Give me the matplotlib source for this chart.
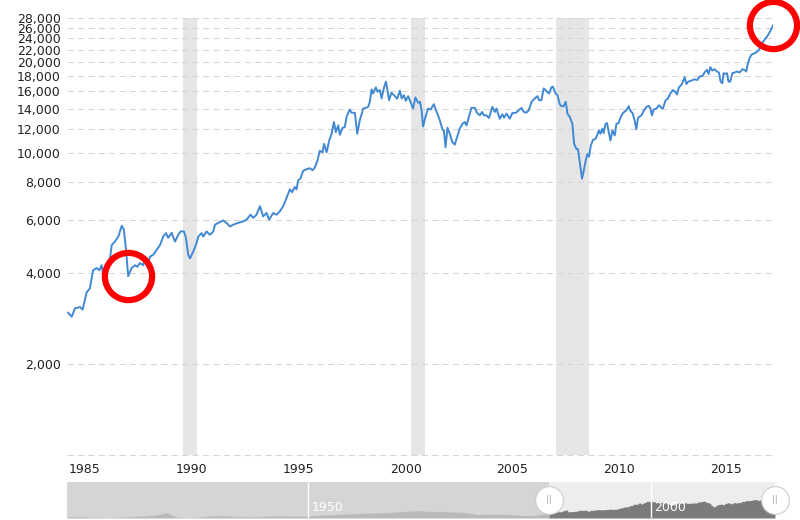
import numpy as np
import matplotlib
matplotlib.use("Agg")
import matplotlib.pyplot as plt
from matplotlib.ticker import NullLocator, NullFormatter

# monthly-ish readings, decimal years / index level (inflation adjusted)
dates = [
    1985.12, 1985.29, 1985.44, 1985.68, 1985.80, 1985.99, 1986.14, 1986.29, 1986.46, 1986.58,
    1986.69, 1986.77, 1986.93, 1987.03, 1987.16, 1987.31, 1987.47, 1987.63, 1987.73, 1987.83,
    1987.93, 1988.09, 1988.25, 1988.36, 1988.48, 1988.64, 1988.71, 1988.82, 1988.95, 1989.10,
    1989.26, 1989.42, 1989.57, 1989.70, 1989.80, 1989.96, 1990.12, 1990.27, 1990.38, 1990.54,
    1990.63, 1990.74, 1990.82, 1990.97, 1991.13, 1991.21, 1991.36, 1991.44, 1991.60, 1991.75,
    1991.91, 1991.99, 1992.14, 1992.37, 1992.53, 1992.69, 1992.84, 1993.07, 1993.31, 1993.47,
    1993.65, 1993.78, 1993.93, 1994.09, 1994.24, 1994.40, 1994.52, 1994.71, 1994.87, 1995.02,
    1995.18, 1995.34, 1995.49, 1995.60, 1995.72, 1995.80, 1995.88, 1995.99, 1996.11, 1996.27,
    1996.42, 1996.55, 1996.66, 1996.77, 1996.89, 1997.02, 1997.09, 1997.21, 1997.33, 1997.44,
    1997.55, 1997.64, 1997.75, 1997.83, 1997.95, 1998.06, 1998.14, 1998.29, 1998.37, 1998.53,
    1998.64, 1998.76, 1998.92, 1999.04, 1999.15, 1999.23, 1999.31, 1999.38, 1999.51, 1999.59,
    1999.70, 1999.78, 1999.88, 1999.98, 2000.04, 2000.13, 2000.24, 2000.40, 2000.51, 2000.63,
    2000.72, 2000.82, 2000.91, 2001.02, 2001.13, 2001.25, 2001.36, 2001.49, 2001.57, 2001.65,
    2001.72, 2001.83, 2001.95, 2002.07, 2002.22, 2002.31, 2002.42, 2002.50, 2002.63, 2002.69,
    2002.77, 2002.86, 2002.97, 2003.09, 2003.20, 2003.33, 2003.43, 2003.56, 2003.67, 2003.75,
    2003.86, 2003.98, 2004.14, 2004.24, 2004.37, 2004.48, 2004.56, 2004.68, 2004.80, 2004.96,
    2005.07, 2005.15, 2005.30, 2005.43, 2005.50, 2005.62, 2005.77, 2005.90, 2006.05, 2006.16,
    2006.32, 2006.43, 2006.55, 2006.66, 2006.79, 2006.94, 2007.07, 2007.14, 2007.25, 2007.36,
    2007.51, 2007.61, 2007.72, 2007.79, 2007.91, 2008.00, 2008.11, 2008.19, 2008.29, 2008.39,
    2008.47, 2008.58, 2008.70, 2008.78, 2008.89, 2008.96, 2009.04, 2009.15, 2009.23, 2009.32,
    2009.40, 2009.48, 2009.56, 2009.66, 2009.78, 2009.85, 2009.94, 2010.01, 2010.10, 2010.16,
    2010.24, 2010.32, 2010.40, 2010.48, 2010.57, 2010.68, 2010.76, 2010.86, 2010.96, 2011.07,
    2011.22, 2011.33, 2011.41, 2011.51, 2011.61, 2011.69, 2011.77, 2011.93, 2012.03, 2012.16,
    2012.27, 2012.35, 2012.42, 2012.50, 2012.63, 2012.75, 2012.86, 2012.93, 2013.06, 2013.17,
    2013.28, 2013.40, 2013.51, 2013.59, 2013.68, 2013.79, 2013.87, 2013.95, 2014.03, 2014.12,
    2014.26, 2014.42, 2014.54, 2014.65, 2014.78, 2014.88, 2014.99, 2015.07, 2015.15, 2015.24,
    2015.35, 2015.46, 2015.55, 2015.63, 2015.71, 2015.77, 2015.85, 2015.93, 2016.00, 2016.08,
    2016.18, 2016.29, 2016.39, 2016.52, 2016.65, 2016.75, 2016.83, 2016.91, 2016.99, 2017.07,
    2017.17, 2017.30, 2017.41, 2017.49, 2017.58, 2017.69, 2017.79, 2017.89, 2017.99, 2018.08,
]
values = [
    2960, 2870, 3060, 3090, 3030, 3460, 3560, 4090, 4160, 4090,
    4250, 3940, 4250, 4200, 4960, 5090, 5290, 5740, 5570, 4780,
    3910, 4160, 4250, 4200, 4320, 4250, 4490, 4200, 4540, 4600,
    4780, 4960, 5290, 5430, 5240, 5440, 5090, 5360, 5500, 5500,
    5240, 4600, 4480, 4710, 5040, 5290, 5430, 5290, 5500, 5360,
    5500, 5790, 5870, 5980, 5870, 5710, 5790, 5870, 5940, 6020,
    6250, 6100, 6250, 6670, 6170, 6330, 6020, 6330, 6250, 6410,
    6670, 7110, 7580, 7420, 7720, 7580, 8120, 8250, 8730, 8840,
    8910, 8770, 8960, 9380, 10180, 10060, 10720, 10060, 11000, 11580,
    12670, 11730, 12340, 11490, 12120, 12190, 13170, 13930, 13610, 13580,
    11580, 12830, 14040, 14110, 14220, 14780, 16250, 15750, 16500, 15960,
    16160, 15160, 16370, 17240, 16370, 14960, 15840, 15430, 15120, 16080,
    15160, 15550, 14890, 15430, 14780, 14040, 15280, 14660, 14780, 13850,
    12250, 13170, 14040, 13930, 14510, 13930, 13330, 12830, 11940, 11880,
    10450, 12120, 11580, 10860, 10660, 11430, 12030, 12500, 12670, 12340,
    13170, 14110, 14110, 13580, 13330, 13680, 13330, 13330, 13070, 14220,
    13680, 14040, 12990, 13430, 13100, 13500, 12990, 13580, 13580, 13790,
    14110, 13680, 13610, 13850, 14780, 15160, 15430, 14960, 14960, 16370,
    15960, 15750, 16500, 16590, 15750, 15550, 14510, 14290, 14290, 14780,
    13500, 13170, 12500, 10720, 10310, 10310, 9380, 8230, 8730, 9430,
    9930, 9720, 10580, 11050, 11140, 11430, 11880, 11580, 12030, 11640,
    12440, 12570, 11730, 11000, 11880, 11430, 12500, 12570, 13170, 13580,
    13850, 14290, 13790, 13580, 12830, 11980, 13080, 13330, 13790, 14220,
    14330, 14040, 13330, 13930, 14040, 14400, 14110, 14040, 14960, 15160,
    15750, 16160, 15960, 15630, 16500, 16790, 17240, 17820, 16920, 17240,
    17370, 17550, 17450, 17920, 18000, 18480, 18850, 18280, 19250, 18760,
    18950, 18620, 18480, 17240, 17020, 18380, 18280, 18380, 17240, 17240,
    18380, 18480, 18620, 18480, 18950, 18850, 18620, 19850, 20630, 21160,
    21320, 21550, 21890, 22570, 23150, 23750, 24250, 24870, 25650, 26450,
]

recessions = [(1990.50, 1991.17), (2001.17, 2001.83), (2007.92, 2009.50)]
y_ticks = [2000, 4000, 6000, 8000, 10000, 12000, 14000, 16000,
           18000, 20000, 22000, 24000, 26000, 28000]
x_tick_years = [1985, 1990, 1995, 2000, 2005, 2010, 2015]

# navigator: earlier history shown only in the scroller
nav_years = [1914.8, 1916.7, 1918.6, 1921.1, 1923.5, 1926.0, 1927.9, 1928.9, 1929.4, 1930.1,
             1930.8, 1932.3, 1934.2, 1935.7, 1937.1, 1939.1, 1941.5, 1944.0, 1945.9, 1947.8,
             1950.0, 1952.7, 1955.6, 1958.5, 1961.5, 1964.4, 1966.0, 1967.5, 1969.5, 1972.6,
             1974.8, 1977.5, 1980.0, 1982.3, 1984.0]
nav_values = [1070, 1190, 950, 810, 1070, 1500, 2000, 3020, 3440, 2000,
              1070, 810, 1070, 1500, 1640, 1360, 1070, 1360, 1640, 1360,
              1500, 2000, 2580, 3020, 3440, 4500, 5000, 4500, 4340, 3650,
              2280, 2580, 2000, 1640, 2280]
nav_labels = [1950, 2000]
circled = [1987.93, 2018.08]

plt.rcParams['font.family'] = ['DejaVu Sans']

fig = plt.figure(figsize=(8, 5.2), dpi=100)
ax = fig.add_axes([67/800, 65/520, 706/800, 437/520])
ax.set_yscale('log')
ax.set_ylim(1000, 28000)
ax.set_xlim(1985.07, 2018.08)

for a, b in recessions:
    ax.axvspan(a, b, color='#e6e6e6', lw=0, zorder=0)

ax.plot(dates, values, color='#4289d3', lw=1.4, zorder=3, solid_joinstyle='round')

ax.set_yticks(y_ticks)
ax.set_yticklabels([f'{v:,}' for v in y_ticks])
ax.yaxis.set_minor_locator(NullLocator())
ax.yaxis.set_minor_formatter(NullFormatter())
ax.set_xticks([y + 0.9 for y in x_tick_years])
ax.set_xticklabels([str(y) for y in x_tick_years])

ax.grid(axis='y', color='#d6d6d6', lw=0.75, linestyle=(0, (6, 4)))
ax.axhline(1000, color='#d6d6d6', lw=0.75, linestyle=(0, (6, 4)), clip_on=False)
for s in ax.spines.values():
    s.set_visible(False)
ax.tick_params(length=0, labelsize=9, colors='#222222')
ax.tick_params(axis='x', pad=6)
ax.tick_params(axis='y', pad=4.5)

# red hand-drawn highlight rings
for d in circled:
    i = int(np.argmin(np.abs(np.array(dates) - d)))
    ax.plot([dates[i]], [values[i]], 'o', ms=34, mfc='none', mec='#ff0000',
            mew=4.5, clip_on=False, zorder=6)

# navigator strip
nav = fig.add_axes([67/800, 2/520, 708/800, 36/520])
nav.set_facecolor('#d5d5d5')
nav.set_yscale('function', functions=(np.sqrt, np.square))
nav.set_ylim(708, 59500)
nav.set_xlim(1914.8, 2018.08)
sel_start, sel_end = ax.get_xlim()
nav.axvspan(sel_start, sel_end, color='#ededed', lw=0, zorder=0)
nav.fill_between(nav_years + [dates[0]], nav_values + [values[0]], 708,
                 color='#b9b9b9', lw=0, zorder=1)
nav.fill_between(dates, values, 708, color='#7b7b7b', lw=0, zorder=1)
for yr in nav_labels:
    nav.axvline(yr, color='white', lw=1, zorder=2)
    nav.text(yr + 0.5, 0.1, str(yr), transform=nav.get_xaxis_transform(),
             color='white', fontsize=9, ha='left', va='bottom', zorder=3)
for x in (sel_start, sel_end):
    nav.plot([x], [0.5], transform=nav.get_xaxis_transform(), marker='o', ms=20,
             mfc='white', mec='#cccccc', mew=0.8, clip_on=False, zorder=6)
    nav.text(x, 0.5, '||', transform=nav.get_xaxis_transform(), color='#aaaaaa',
             fontsize=6, ha='center', va='center', zorder=7)
nav.set_xticks([])
nav.set_yticks([])
nav.yaxis.set_minor_locator(NullLocator())
for s in nav.spines.values():
    s.set_visible(False)

fig.savefig('out.png', dpi=100)
